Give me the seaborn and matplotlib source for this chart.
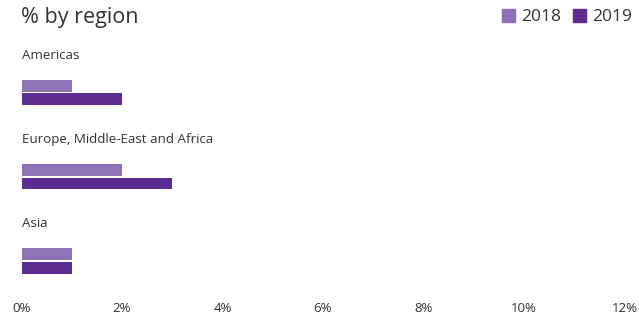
import numpy as np
import pandas as pd
import matplotlib
matplotlib.use("Agg")
import matplotlib.pyplot as plt
import seaborn as sns
from matplotlib.patches import Patch

regions = ["Americas", "Europe, Middle-East and Africa", "Asia"]
years = ["2018", "2019"]
vals_2018 = [1, 2, 1]
vals_2019 = [2, 3, 1]
xticks = [0, 2, 4, 6, 8, 10, 12]
xtick_labels = ["0%", "2%", "4%", "6%", "8%", "10%", "12%"]

colors = ["#8e72b6", "#5c2d91"]
txt = "#333333"

df = pd.DataFrame({
    "region": regions * 2,
    "year": [years[0]] * 3 + [years[1]] * 3,
    "value": vals_2018 + vals_2019,
})

sns.set_theme(style="white")
plt.rcParams["font.family"] = ["Open Sans", "DejaVu Sans"]

fig = plt.figure(figsize=(6.39, 3.2), dpi=100)
# axes placed in pixel space
T, B = 30, 290
L, R = 21.5, 624.5
ax = fig.add_axes([L / 639, 1 - B / 320, (R - L) / 639, (B - T) / 320])

sns.barplot(data=df, x="value", y="region", hue="year", orient="h",
            palette=colors, width=0.32, gap=0.12, ax=ax, legend=False,
            errorbar=None, saturation=1, linewidth=0)

ax.set_xlim(0, 12)
ax.set_ylim((B - 92.5) / 84.25, (T - 92.5) / 84.25)
ax.set_yticks([])
ax.set_ylabel("")
ax.set_xlabel("")
ax.set_xticks(xticks)
ax.set_xticklabels(xtick_labels, fontsize=9.5, color=txt)
ax.tick_params(axis="x", length=0, pad=9)
sns.despine(ax=ax, left=True, bottom=True)

for i, r in enumerate(regions):
    ax.text(0, i - 0.445, r, fontsize=9.6, color=txt, va="center", ha="left")

fig.text(21 / 639, 1 - 17 / 320, "% by region", fontsize=15.5, color=txt,
         va="center", ha="left")

handles = [Patch(color=c, label=y) for c, y in zip(colors, years)]
fig.legend(handles=handles, loc="center right", bbox_to_anchor=(1.0, 1 - 17 / 320),
           ncol=2, frameon=False, fontsize=12.5, handlelength=0.75, handleheight=0.75,
           handletextpad=0.35, columnspacing=0.7, labelcolor=txt, borderaxespad=0.0)

fig.savefig("out.png", dpi=100)
